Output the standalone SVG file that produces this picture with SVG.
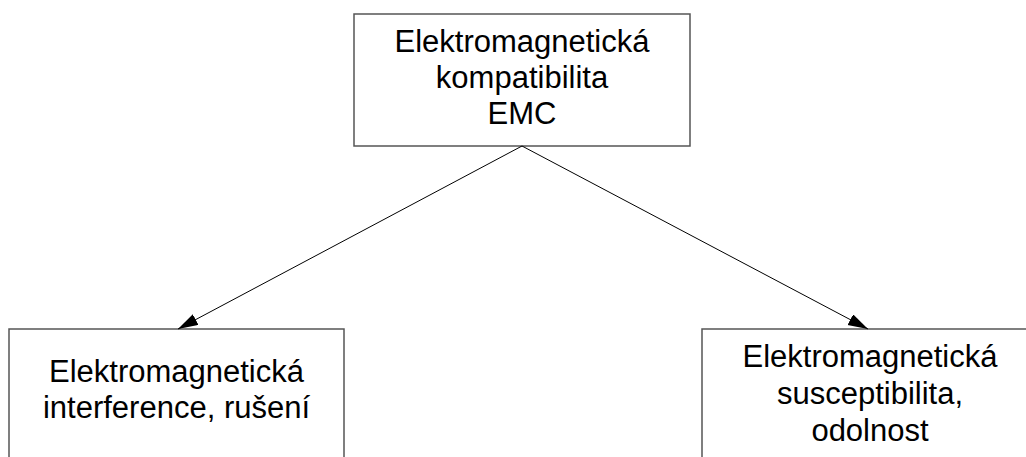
<svg xmlns="http://www.w3.org/2000/svg" width="1026" height="457" viewBox="0 0 1026 457">
<style>
.box{fill:#fff;stroke:#555;stroke-width:1.5}
.t{font-family:"Liberation Sans",Arial,sans-serif;font-size:31px;fill:#000;text-anchor:middle}
.c{stroke:#000;stroke-width:1;fill:none}
</style>
<defs>
<marker id="ah" markerUnits="userSpaceOnUse" markerWidth="22" markerHeight="14" refX="20" refY="6" orient="auto">
<path d="M0,0 L20,6 L0,12 Z" fill="#000"/>
</marker>
</defs>
<rect width="1026" height="457" fill="#fff"/>
<g id="emc">
<rect class="box" x="354" y="14" width="336" height="132"/>
<text class="t" x="522" y="52">Elektromagnetická</text>
<text class="t" x="522" y="88">kompatibilita</text>
<text class="t" x="522" y="124">EMC</text>
</g>
<g id="emi">
<rect class="box" x="9" y="329" width="335" height="140"/>
<text class="t" x="176.5" y="382">Elektromagnetická</text>
<text class="t" x="176.5" y="418">interference, rušení</text>
</g>
<g id="ems">
<rect class="box" x="702" y="329" width="336" height="140"/>
<text class="t" x="870" y="367">Elektromagnetická</text>
<text class="t" x="870" y="404">susceptibilita,</text>
<text class="t" x="870" y="441">odolnost</text>
</g>
<g id="connectors">
<line class="c" x1="522" y1="146" x2="178" y2="329" marker-end="url(#ah)"/>
<line class="c" x1="522" y1="146" x2="868" y2="329" marker-end="url(#ah)"/>
</g>
</svg>
